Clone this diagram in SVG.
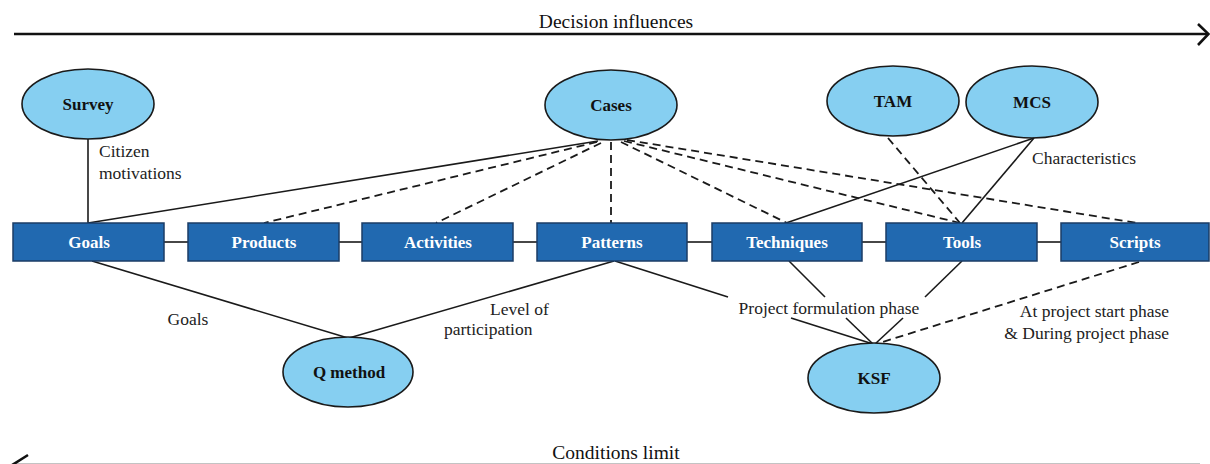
<svg xmlns="http://www.w3.org/2000/svg" width="1210" height="464" viewBox="0 0 1210 464">
  <style>
    .box { fill: #2169b0; stroke: #1b3d66; stroke-width: 1.5; }
    .ell { fill: #86cff1; stroke: #1a1a1a; stroke-width: 1.6; }
    .blabel { font-family: "Liberation Serif", "Times New Roman", serif; font-weight: bold; font-size: 17px; text-anchor: middle; }
    .wlabel { fill: #ffffff; }
    .klabel { fill: #111111; }
    .note { font-family: "Liberation Serif", "Times New Roman", serif; font-size: 17.5px; fill: #222222; }
    .axis { font-family: "Liberation Serif", "Times New Roman", serif; font-size: 19.5px; fill: #111111; text-anchor: middle; }
    .solid { stroke: #1a1a1a; stroke-width: 1.6; fill: none; }
    .dash { stroke: #1a1a1a; stroke-width: 1.8; fill: none; stroke-dasharray: 8 5; }
    .arrow { stroke: #111111; stroke-width: 2.6; fill: none; }
  </style>

  <rect x="0" y="0" width="1210" height="464" fill="#ffffff"/>

  <!-- direction axes -->
  <g id="axes">
    <line class="arrow" x1="14" y1="34" x2="1207" y2="34"/>
    <polyline class="arrow" points="1198,24 1208.5,34 1198,45"/>
    <text class="axis" x="616" y="28">Decision influences</text>

    <line class="arrow" x1="14" y1="465.1" x2="1200" y2="465.1"/>
    <polyline class="arrow" points="28,455 12,465.1 28,475"/>
    <text class="axis" x="616" y="459">Conditions limit</text>
  </g>

  <!-- connectors -->
  <g id="connectors">
    <!-- chain between the blocks -->
    <line class="solid" x1="164" y1="242" x2="188" y2="242"/>
    <line class="solid" x1="339" y1="242" x2="362" y2="242"/>
    <line class="solid" x1="513" y1="242" x2="537" y2="242"/>
    <line class="solid" x1="687" y1="242" x2="712" y2="242"/>
    <line class="solid" x1="862" y1="242" x2="886" y2="242"/>
    <line class="solid" x1="1037" y1="242" x2="1061" y2="242"/>

    <!-- Survey -->
    <line class="solid" x1="88" y1="139" x2="88" y2="223"/>

    <!-- Cases -->
    <line class="solid" x1="598" y1="141" x2="88" y2="223"/>
    <line class="dash" x1="597" y1="142" x2="264" y2="223"/>
    <line class="dash" x1="601" y1="143" x2="436" y2="223"/>
    <line class="dash" x1="611" y1="142" x2="611" y2="223"/>
    <line class="dash" x1="621" y1="142" x2="787" y2="223"/>
    <line class="dash" x1="624" y1="141" x2="960" y2="223"/>
    <line class="dash" x1="627" y1="140" x2="1137" y2="223"/>

    <!-- TAM / MCS -->
    <line class="dash" x1="888" y1="138" x2="960" y2="223"/>
    <line class="solid" x1="1034" y1="138" x2="786" y2="223"/>
    <line class="solid" x1="1034" y1="138" x2="962" y2="223"/>

    <!-- Q method -->
    <line class="solid" x1="92" y1="261" x2="348" y2="338"/>
    <line class="solid" x1="614" y1="261" x2="349" y2="338"/>

    <!-- KSF (interrupted by the phase label) -->
    <line class="solid" x1="615" y1="261" x2="728" y2="297"/>
    <line class="solid" x1="791" y1="318" x2="873" y2="344"/>
    <line class="solid" x1="789" y1="261" x2="825" y2="297"/>
    <line class="solid" x1="846" y1="318" x2="873" y2="344"/>
    <line class="solid" x1="962" y1="261" x2="925" y2="297"/>
    <line class="solid" x1="903" y1="318" x2="875" y2="344"/>
    <line class="dash" x1="1139" y1="262" x2="876" y2="344"/>

    <!-- connector notes -->
    <text class="note" x="99" y="157">Citizen</text>
    <text class="note" x="99" y="179">motivations</text>
    <text class="note" x="1032" y="164">Characteristics</text>
    <text class="note" x="188" y="325" text-anchor="middle">Goals</text>
    <text class="note" x="490" y="315">Level of</text>
    <text class="note" x="444" y="335">participation</text>
    <text class="note" x="829" y="314" text-anchor="middle">Project formulation phase</text>
    <text class="note" x="1169" y="317" text-anchor="end">At project start phase</text>
    <text class="note" x="1169" y="339" text-anchor="end">&amp; During project phase</text>
  </g>

  <!-- source ellipses -->
  <g id="survey"><ellipse class="ell" cx="88" cy="104" rx="66" ry="35"/><text class="blabel klabel" x="88" y="110">Survey</text></g>
  <g id="cases"><ellipse class="ell" cx="611" cy="105" rx="66" ry="35"/><text class="blabel klabel" x="611" y="111">Cases</text></g>
  <g id="tam"><ellipse class="ell" cx="893" cy="101" rx="66" ry="35"/><text class="blabel klabel" x="893" y="107">TAM</text></g>
  <g id="mcs"><ellipse class="ell" cx="1032" cy="102" rx="66" ry="36"/><text class="blabel klabel" x="1032" y="108">MCS</text></g>
  <g id="qmethod"><ellipse class="ell" cx="348" cy="372" rx="65" ry="35"/><text class="blabel klabel" x="349" y="378">Q method</text></g>
  <g id="ksf"><ellipse class="ell" cx="874" cy="378" rx="66" ry="35"/><text class="blabel klabel" x="874" y="384">KSF</text></g>

  <!-- design blocks -->
  <g id="goals"><rect class="box" x="13" y="223" width="151" height="38"/><text class="blabel wlabel" x="89" y="248">Goals</text></g>
  <g id="products"><rect class="box" x="188" y="223" width="151" height="38"/><text class="blabel wlabel" x="264" y="248">Products</text></g>
  <g id="activities"><rect class="box" x="362" y="223" width="151" height="38"/><text class="blabel wlabel" x="438" y="248">Activities</text></g>
  <g id="patterns"><rect class="box" x="537" y="223" width="150" height="38"/><text class="blabel wlabel" x="612" y="248">Patterns</text></g>
  <g id="techniques"><rect class="box" x="712" y="223" width="150" height="38"/><text class="blabel wlabel" x="787" y="248">Techniques</text></g>
  <g id="tools"><rect class="box" x="886" y="223" width="151" height="38"/><text class="blabel wlabel" x="962" y="248">Tools</text></g>
  <g id="scripts"><rect class="box" x="1061" y="223" width="148" height="38"/><text class="blabel wlabel" x="1135" y="248">Scripts</text></g>
</svg>
